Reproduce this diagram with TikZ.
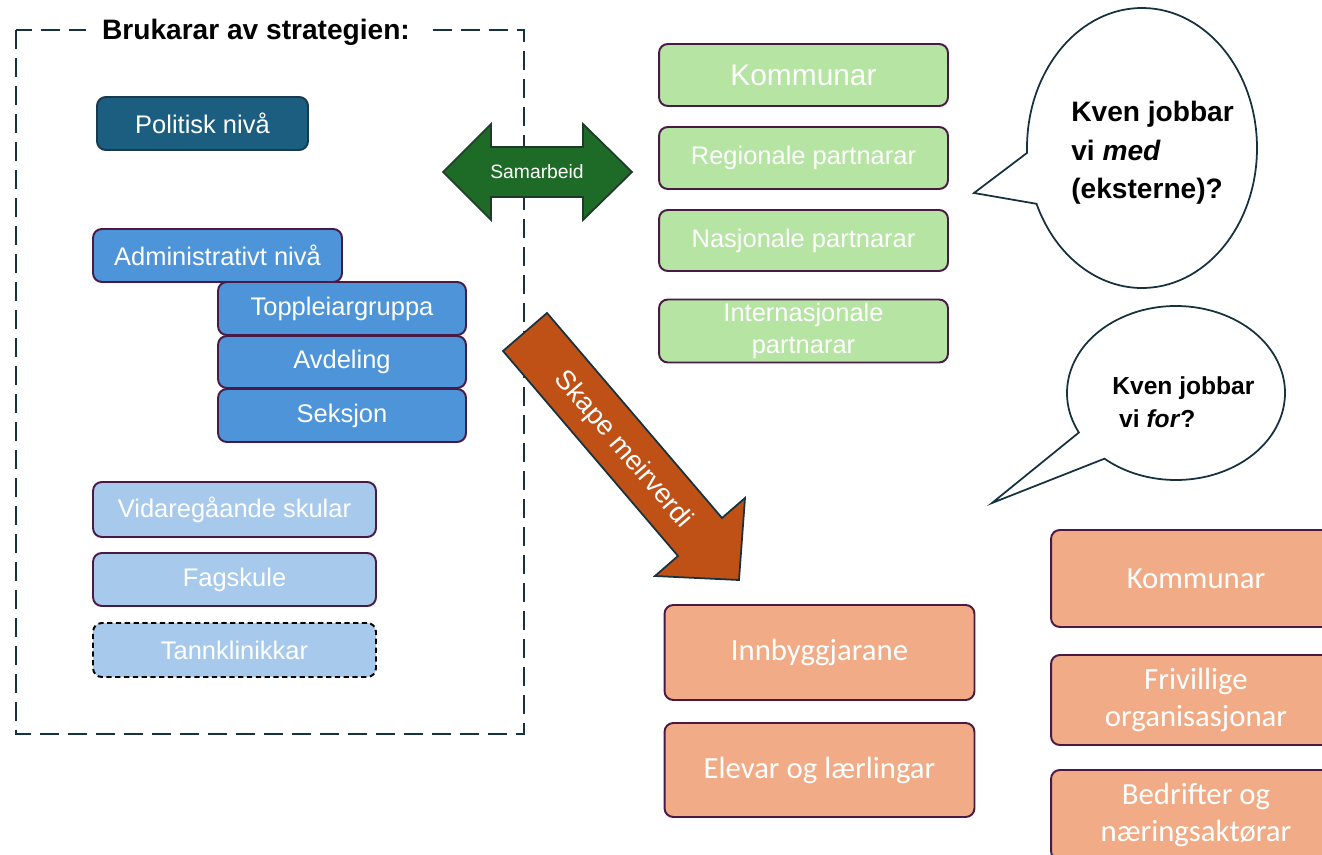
\documentclass[tikz,border=0pt]{standalone}
\usepackage{xcolor}
\usepackage{fontspec}
\setmainfont{Liberation Sans}
\newfontfamily\narrowfont{Carlito}
\usepackage{tikz}
\usetikzlibrary{calc}
\usetikzlibrary{positioning}
\tikzset{>=latex}
\definecolor{polblue}{HTML}{1B5E80}
\definecolor{poledge}{HTML}{173A4F}
\definecolor{midblue}{HTML}{4E94D9}
\definecolor{lightblue}{HTML}{A7CAEC}
\definecolor{greenbox}{HTML}{B5E4A3}
\definecolor{orangebox}{HTML}{F1AB86}
\definecolor{boxedge}{HTML}{4A1A47}
\definecolor{greenarrow}{HTML}{1E6A27}
\definecolor{greenedge}{HTML}{1F3A2A}
\definecolor{orangearrow}{HTML}{BF5117}
\definecolor{darkedge}{HTML}{16323F}
\tikzstyle{box} = [rectangle, rounded corners = 5pt, line width = 1.1pt, draw = boxedge, text = white, align = center, inner sep = 1, font = \fontsize{14.5}{18}\selectfont]
\tikzstyle{obox} = [box, fill = orangebox, minimum width = 6.2cm, font = \narrowfont\fontsize{17.5}{21}\selectfont]
\tikzstyle{frame} = [draw = darkedge, line width = 1.1pt, dash pattern = on 0.38cm off 0.18cm]
\tikzstyle{bubble} = [draw = darkedge, line width = 1pt, fill = white]

\begin{document}
\begin{tikzpicture}[x = 0.02cm, y = -0.02cm]
\useasboundingbox (0,0) rectangle (1322,855);
\clip (0,0) rectangle (1322,855);
% users of the strategy
\draw [frame] (16,30) rectangle (524,734);
\node [fill = white, inner xsep = 9pt, inner ysep = 2pt, font = \fontsize{16}{19}\selectfont\bfseries] (H) at (256,32) {Brukarar av strategien:};
\node [box, fill = polblue, draw = poledge, minimum width = 4.22cm, minimum height = 1.06cm] (P) at (202.5,123.5) {Politisk nivå};
\node [box, fill = midblue, minimum width = 4.98cm, minimum height = 1.06cm] (Ad) at (217.5,255.5) {Administrativt nivå};
\node [box, fill = midblue, minimum width = 4.96cm, minimum height = 1.06cm] (T) at (342,308.5) {Toppleiargruppa};
\node [box, fill = midblue, minimum width = 4.96cm, minimum height = 1.04cm] (Av) at (342,362) {Avdeling};
\node [box, fill = midblue, minimum width = 4.96cm, minimum height = 1.06cm] (S) at (342,415.5) {Seksjon};
\node [box, fill = lightblue, minimum width = 5.66cm, minimum height = 1.1cm] (V) at (234.5,509.5) {Vidaregåande skular};
\node [box, fill = lightblue, minimum width = 5.66cm, minimum height = 1.06cm] (F) at (234.5,579.5) {Fagskule};
\node [box, fill = lightblue, draw = black, dash pattern = on 3pt off 2pt, minimum width = 5.66cm, minimum height = 1.08cm] (Tk) at (234.5,650) {Tannklinikkar};

% partners
\node [box, fill = greenbox, minimum width = 5.78cm, minimum height = 1.24cm, font = \fontsize{17}{20}\selectfont] (K) at (803.5,75) {Kommunar};
\node [box, fill = greenbox, minimum width = 5.78cm, minimum height = 1.24cm] (R) at (803.5,158) {Regionale partnarar};
\node [box, fill = greenbox, minimum width = 5.78cm, minimum height = 1.22cm] (N) at (803.5,240.5) {Nasjonale partnarar};
\node [box, fill = greenbox, minimum width = 5.78cm, minimum height = 1.26cm] (I) at (803.5,331) {Internasjonale\\partnarar};

% block arrows
\draw [fill = greenarrow, draw = greenedge, line width = 1pt] (443,172) -- (491,124) -- (491,147) -- (583,147) -- (583,124) -- (632,172) -- (583,220) -- (583,197) -- (491,197) -- (491,220) -- cycle;
\node [draw = none, text = white, font = \fontsize{11}{13}\selectfont] (Sa) at (537,172) {Samarbeid};
\draw [fill = orangearrow, draw = darkedge, line width = 1pt] (503,351) -- (547,313) -- (722,518) -- (745,498) -- (739,580) -- (655,576) -- (678,556) -- cycle;
\node [draw = none, text = white, rotate = -49.5, font = \fontsize{15.5}{18}\selectfont] (Sk) at (623,450) {Skape meirverdi};

% speech bubbles
\coordinate (C1) at (1142,148);
\coordinate (C2) at (1176,393);
\draw [bubble] ($(C1)+(178:115 and 140)$) arc [start angle = 178, end angle = 516.5, x radius = 115, y radius = 140] -- (974,193) -- cycle;
\draw [bubble] ($(C2)+(153:109 and 87)$) arc [start angle = 153, end angle = 491, x radius = 109, y radius = 87] -- (992,503) -- cycle;
\node [anchor = west, align = left, inner sep = 0, font = \fontsize{16}{22}\selectfont\bfseries] (Q1) at (1071,153) {Kven jobbar\\vi \textit{med}\\(eksterne)?};
\node [anchor = west, align = left, inner sep = 0, font = \fontsize{14}{19}\selectfont\bfseries] (Q2) at (1112,402) {Kven jobbar\\\ vi \textit{for}?};

% target groups
\node [obox, minimum height = 1.9cm] (Ib) at (819.5,652.5) {Innbyggjarane};
\node [obox, minimum height = 1.88cm] (E) at (819.5,770) {Elevar og lærlingar};
\node [obox, minimum width = 5.8cm, minimum height = 1.94cm] (Ko) at (1196,578.5) {Kommunar};
\node [obox, minimum width = 5.8cm, minimum height = 1.8cm] (Fr) at (1196,700) {Frivillige\\organisasjonar};
\node [obox, minimum width = 5.8cm, minimum height = 1.8cm] (B) at (1196,815) {Bedrifter og\\næringsaktørar};
\end{tikzpicture}
\end{document}
